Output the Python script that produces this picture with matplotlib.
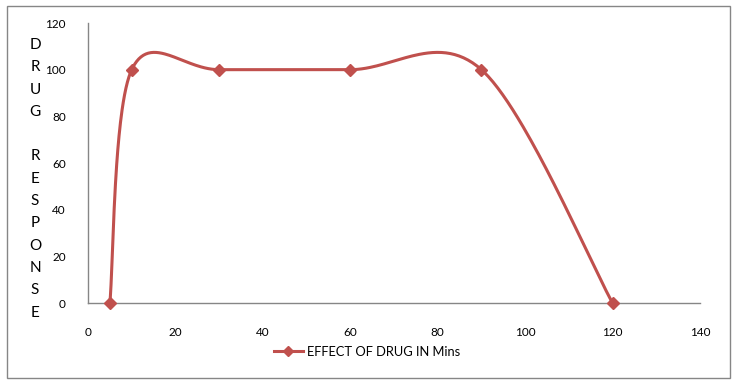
import numpy as np
import matplotlib
matplotlib.use("Agg")
import matplotlib.pyplot as plt
from matplotlib.patches import Rectangle

minutes = [5, 10, 30, 60, 90, 120]
response = [0, 100, 100, 100, 100, 0]
x_ticks = [0, 20, 40, 60, 80, 100, 120, 140]
y_ticks = [0, 20, 40, 60, 80, 100, 120]
series_name = "EFFECT OF DRUG IN Mins"
ylabel_letters = ["D", "R", "U", "G", "", "R", "E", "S", "P", "O", "N", "S", "E"]

color = "#C0504D"
font = ["Lato", "DejaVu Sans"]


def excel_smooth(xs, ys, n=60):
    P = np.column_stack([xs, ys]).astype(float)
    out = []
    m = len(P)
    for i in range(m - 1):
        p0 = P[i - 1] if i > 0 else P[i]
        p1 = P[i]
        p2 = P[i + 1]
        p3 = P[i + 2] if i + 2 < m else P[i + 1]
        c1 = p1 + (p2 - p0) / 6.0
        c2 = p2 - (p3 - p1) / 6.0
        t = np.linspace(0, 1, n)[:, None]
        seg = ((1 - t) ** 3) * p1 + 3 * ((1 - t) ** 2) * t * c1 + 3 * (1 - t) * t ** 2 * c2 + t ** 3 * p2
        out.append(seg if i == 0 else seg[1:])
    arr = np.vstack(out)
    return arr[:, 0], arr[:, 1]


fig = plt.figure(figsize=(7.37, 3.82), dpi=100)
ax = fig.add_axes([88 / 737, 1 - 303 / 382, (700 - 88) / 737, (303 - 23) / 382])

sx, sy = excel_smooth(minutes, response)
ax.plot(sx, sy, color=color, lw=2.2, solid_capstyle="round", zorder=3)
ax.plot(minutes, response, linestyle="none", marker="D", markersize=6.5,
        color=color, zorder=4, clip_on=False)
legend_handle, = ax.plot([], [], color=color, lw=2.2, marker="D", markersize=5.5)

ax.set_xlim(0, 140)
ax.set_ylim(0, 120)
ax.set_xticks(x_ticks)
ax.set_yticks(y_ticks)
ax.set_xticklabels([str(v) for v in x_ticks], fontfamily=font, fontsize=8.5)
ax.set_yticklabels([str(v) for v in y_ticks], fontfamily=font, fontsize=8.5)
ax.tick_params(axis="both", length=0)
ax.tick_params(axis="x", pad=17)
ax.tick_params(axis="y", pad=16)
for s in ["top", "right"]:
    ax.spines[s].set_visible(False)
for s in ["left", "bottom"]:
    ax.spines[s].set_color("#868686")
    ax.spines[s].set_linewidth(1.0)

# vertical stacked y label
y0 = 45
step = 22.3
for i, ch in enumerate(ylabel_letters):
    if ch:
        fig.text(35 / 737, 1 - (y0 + i * step) / 382, ch, ha="center", va="center",
                 fontfamily=font, fontsize=11)

leg = fig.legend([legend_handle], [series_name], loc="center",
                 bbox_to_anchor=(367 / 737, 1 - 352 / 382), frameon=False,
                 prop={"family": font, "size": 9.3}, handlelength=2.3,
                 handletextpad=0.3, borderpad=0)

fig.patches.append(Rectangle((7 / 737, 4 / 382), 723 / 737, 372 / 382,
                             transform=fig.transFigure, fill=False,
                             edgecolor="#868686", lw=1.0))

fig.savefig("out.png", dpi=100)
